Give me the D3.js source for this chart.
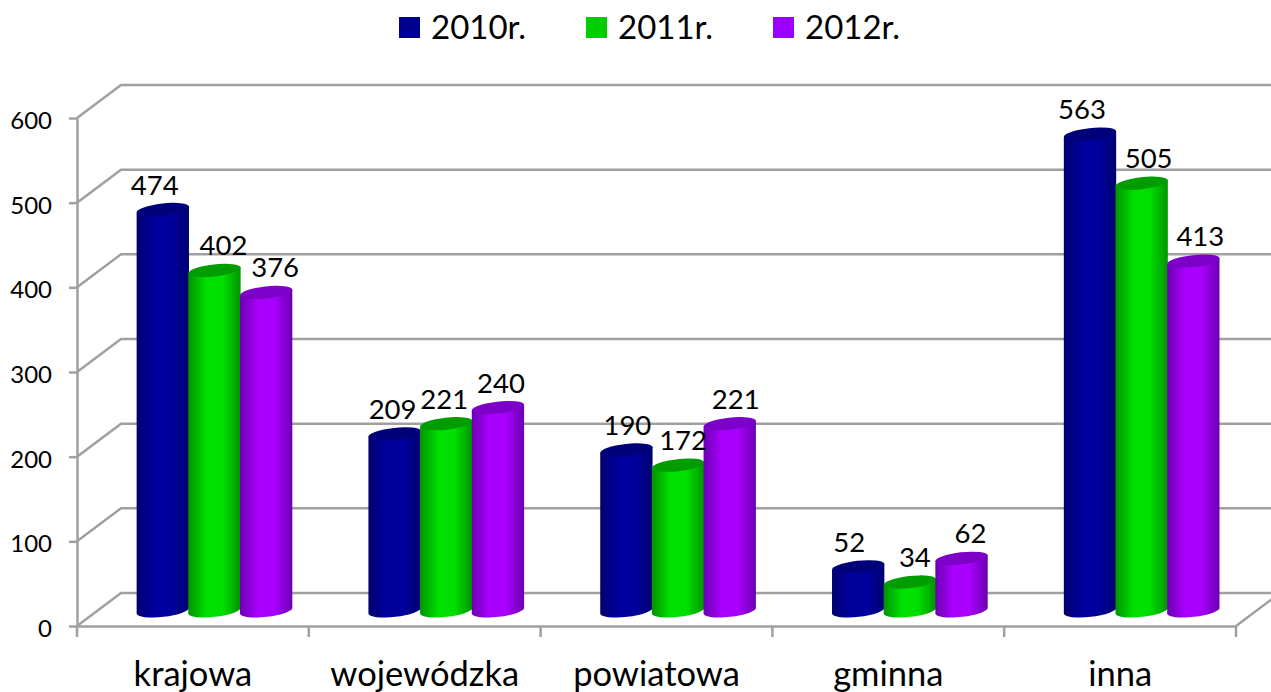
<!DOCTYPE html>
<html>
<head>
<meta charset="utf-8">
<script src="https://cdn.jsdelivr.net/npm/d3@7"></script>
<style>
  html, body { margin: 0; padding: 0; background: #fff; overflow: hidden; }
  text { font-family: Lato, "Open Sans", sans-serif; fill: #000; }
</style>
</head>
<body>
<div id="chart"></div>
<script>
const categories = ["krajowa", "wojewódzka", "powiatowa", "gminna", "inna"];
const seriesNames = ["2010r.", "2011r.", "2012r."];
const values2010 = [474, 209, 190, 52, 563];
const values2011 = [402, 221, 172, 34, 505];
const values2012 = [376, 240, 221, 62, 413];
const yTicks = [0, 100, 200, 300, 400, 500, 600];

// hand placed label offsets, the original labels are not quite centred
const labelDx = [
    [-8, -2, 1, -9, -8],
    [9, -2, 5, 5, 7],
    [9, 3, 6, 9, 7]
];

const width = 1271, height = 692;
const depth = {x: 44, y: -33};
const barDepthX = 0.49, barDepthY = 0.46;
const colors = [
    {edge: "#000070", mid: "#00009e", top: "#000078", legend: "#000090"},
    {edge: "#009400", mid: "#00e000", top: "#009c00", legend: "#00cc00"},
    {edge: "#6a00b0", mid: "#aa00ff", top: "#7c00c8", legend: "#9900ff"}
];
const allValues = [values2010, values2011, values2012];

const svg = d3.select("#chart").append("svg")
    .attr("width", width)
    .attr("height", height);

const x = d3.scaleBand().domain(categories).range([77, 1236]);
const y = d3.scaleLinear().domain([0, 600]).range([626, 118]);
const xBar = d3.scaleBand().domain(seriesNames).range([0, 155]);

// gradients
const defs = svg.append("defs");
colors.forEach((c, i) => {
    const g = defs.append("linearGradient").attr("id", "bar" + i);
    g.append("stop").attr("offset", "0%").attr("stop-color", c.edge);
    g.append("stop").attr("offset", "35%").attr("stop-color", c.mid);
    g.append("stop").attr("offset", "65%").attr("stop-color", c.mid);
    g.append("stop").attr("offset", "100%").attr("stop-color", c.edge);
});

const gridColor = "#a0a0a0";
const gridWidth = 2.5;

// walls and floor
const walls = svg.append("g")
    .attr("fill", "none")
    .attr("stroke", gridColor)
    .attr("stroke-width", gridWidth);

walls.selectAll("path.grid")
    .data(yTicks)
    .enter().append("path")
    .attr("class", "grid")
    .attr("d", d => {
        const p = d3.path();
        p.moveTo(x.range()[0], y(d));
        p.lineTo(x.range()[0] + depth.x, y(d) + depth.y);
        p.lineTo(width, y(d) + depth.y);
        return p.toString();
    });

walls.append("line")
    .attr("x1", x.range()[1])
    .attr("y1", y(0))
    .attr("x2", x.range()[1] + depth.x)
    .attr("y2", y(0) + depth.y);

// axes
const yAxis = d3.axisLeft(y).tickValues(yTicks).tickSize(8).tickPadding(17).tickSizeOuter(0);
const yG = svg.append("g")
    .attr("transform", "translate(" + x.range()[0] + ",0)")
    .call(yAxis);
yG.selectAll("line, path").attr("stroke", gridColor).attr("stroke-width", gridWidth);
yG.selectAll("text").style("font-size", "24px").attr("dy", "0.44em");

const xAxis = d3.axisBottom(x).tickSize(0).tickPadding(35.5).tickSizeOuter(0);
const xG = svg.append("g")
    .attr("transform", "translate(0," + y(0) + ")")
    .call(xAxis);
xG.select("path").attr("stroke", gridColor).attr("stroke-width", gridWidth);
xG.selectAll("text").style("font-size", "34.5px").attr("dy", "0.71em");

// tick marks sit between the categories
svg.append("g").selectAll("line")
    .data(categories.concat(["end"]))
    .enter().append("line")
    .attr("x1", (d, i) => x.range()[0] + i * x.bandwidth())
    .attr("x2", (d, i) => x.range()[0] + i * x.bandwidth())
    .attr("y1", y(0))
    .attr("y2", y(0) + 11)
    .attr("stroke", gridColor)
    .attr("stroke-width", gridWidth);

// cylinders
const tilt = -6.5;
const tiltRad = tilt * Math.PI / 180;
const rx = xBar.bandwidth() / 2 + 0.5, ry = 6;
const tipX = rx * Math.cos(tiltRad), tipY = rx * Math.sin(tiltRad);

function barCx(i, s) {
    return x(categories[i]) + x.bandwidth() / 2 + depth.x * barDepthX - 155 / 2
        + xBar(seriesNames[s]) + xBar.bandwidth() / 2;
}
function barY(v) { return y(v) + depth.y * barDepthY; }

allValues.forEach((vals, s) => {
    const g = svg.append("g").attr("class", "series");

    g.selectAll("path")
        .data(vals)
        .enter().append("path")
        .attr("fill", "url(#bar" + s + ")")
        .attr("d", (d, i) => {
            const cx = barCx(i, s), top = barY(d), bot = barY(0);
            return "M" + (cx - tipX) + "," + (top - tipY)
                + "L" + (cx - tipX) + "," + (bot - tipY)
                + "A" + rx + "," + ry + " " + tilt + " 0 0 " + (cx + tipX) + "," + (bot + tipY)
                + "L" + (cx + tipX) + "," + (top + tipY) + "Z";
        });

    g.selectAll("ellipse")
        .data(vals)
        .enter().append("ellipse")
        .attr("rx", rx)
        .attr("ry", ry)
        .attr("fill", colors[s].top)
        .attr("transform", (d, i) => "translate(" + barCx(i, s) + "," + barY(d) + ") rotate(" + tilt + ")");
});

// labels go on top of everything
allValues.forEach((vals, s) => {
    svg.append("g").selectAll("text")
        .data(vals)
        .enter().append("text")
        .attr("x", (d, i) => barCx(i, s) + labelDx[s][i])
        .attr("y", d => barY(d) - 15)
        .attr("text-anchor", "middle")
        .style("font-size", "27.5px")
        .text(d => d);
});

// legend
const legendX = d3.scalePoint().domain(seriesNames).range([399, 773]);
const legend = svg.append("g").selectAll("g")
    .data(seriesNames)
    .enter().append("g")
    .attr("transform", d => "translate(" + legendX(d) + ",0)");
legend.append("rect")
    .attr("y", 17)
    .attr("width", 21)
    .attr("height", 21)
    .attr("fill", (d, i) => colors[i].legend);
legend.append("text")
    .attr("x", 32)
    .attr("y", 39)
    .style("font-size", "33px")
    .text(d => d);
</script>
</body>
</html>
